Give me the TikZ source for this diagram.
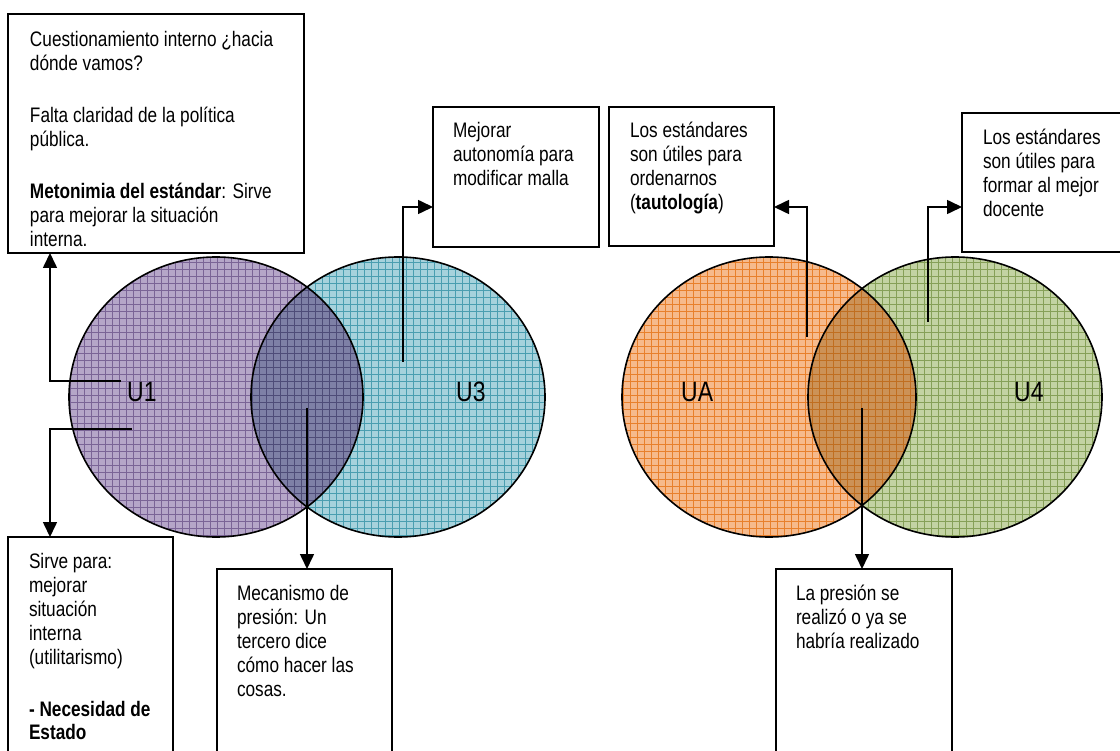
\documentclass[tikz,border=0pt]{standalone}
\usepackage{fontspec}
\setmainfont{Liberation Sans}[FakeStretch=0.82]
\usetikzlibrary{arrows.meta}

% fills of the four sets and their two overlaps
\definecolor{purplebase}{HTML}{B5A6C8}
\definecolor{purplegrid}{HTML}{7A6496}
\definecolor{cyanbase}{HTML}{A6D2DC}
\definecolor{cyangrid}{HTML}{4A9EB0}
\definecolor{lensbase}{HTML}{7E80A6}
\definecolor{lensgrid}{HTML}{4E4C78}
\definecolor{orangebase}{HTML}{F6BA8C}
\definecolor{orangegrid}{HTML}{E8802C}
\definecolor{greenbase}{HTML}{C3D3A3}
\definecolor{greengrid}{HTML}{86A058}
\definecolor{brownbase}{HTML}{CC9257}
\definecolor{browngrid}{HTML}{C06E20}

% text of a note: fixed line breaks, first baseline on the node's base
\newcommand\notetext[1]{\vtop{\hsize=320pt\parindent=0pt\parskip=0pt
  \rightskip=0pt plus 1fil\fontsize{21pt}{24pt}\selectfont\noindent #1\par}}

% one shaded set: clipped fill plus square grid
\newcommand\gridfill[2]{%
  \fill[#1] (0,240) rectangle (1120,560);
  \foreach \gx in {0,7,...,1120} \draw[#2, line width=0.7] (\gx,240) -- (\gx,560);
  \foreach \gy in {241,248,...,560} \draw[#2, line width=0.7] (0,\gy) -- (1120,\gy);
}

\tikzset{
  note/.style={draw, line width=1.8, fill=white, inner sep=0, outer sep=0, anchor=north west},
  notetxt/.style={anchor=base west, inner sep=0, outer sep=0},
  setlabel/.style={anchor=base west, inner sep=0, font=\fontsize{28pt}{30pt}\selectfont},
  conn/.style={line width=1.6, -{Triangle[length=15pt,width=14pt]}},
  rim/.style={line width=1.6},
  setsize/.style={x radius=147, y radius=140}
}

\begin{document}
\begin{tikzpicture}[x=1pt, y=-1pt]
\useasboundingbox (0,0) rectangle (1120,751);

% centres of the four sets
\coordinate (c1) at (216,397);
\coordinate (c3) at (398,397);
\coordinate (ca) at (769,397);
\coordinate (c4) at (955,397);

% left pair
\begin{scope}\clip (c1) ellipse [setsize]; \gridfill{purplebase}{purplegrid}\end{scope}
\begin{scope}\clip (c3) ellipse [setsize]; \gridfill{cyanbase}{cyangrid}\end{scope}
\begin{scope}\clip (c1) ellipse [setsize]; \clip (c3) ellipse [setsize]; \gridfill{lensbase}{lensgrid}\end{scope}
\draw[rim] (c1) ellipse [setsize];
\draw[rim] (c3) ellipse [setsize];

% right pair
\begin{scope}\clip (ca) ellipse [setsize]; \gridfill{orangebase}{orangegrid}\end{scope}
\begin{scope}\clip (c4) ellipse [setsize]; \gridfill{greenbase}{greengrid}\end{scope}
\begin{scope}\clip (ca) ellipse [setsize]; \clip (c4) ellipse [setsize]; \gridfill{brownbase}{browngrid}\end{scope}
\draw[rim] (ca) ellipse [setsize];
\draw[rim] (c4) ellipse [setsize];

% set labels
\node[setlabel] (l1) at (127,402) {U1};
\node[setlabel] (l3) at (456,402) {U3};
\node[setlabel] (la) at (681,402) {UA};
\node[setlabel] (l4) at (1014,402) {U4};

% note frames
\node[note, minimum width=296, minimum height=239] (b1) at (8,14) {};
\node[note, minimum width=166, minimum height=140] (b2) at (433,107) {};
\node[note, minimum width=165, minimum height=139] (b3) at (609,107) {};
\node[note, minimum width=165, minimum height=139] (b4) at (962,113) {};
\node[note, minimum width=165, minimum height=240] (b5) at (8,537) {};
\node[note, minimum width=175, minimum height=200] (b6) at (217,569) {};
\node[note, minimum width=176, minimum height=200] (b7) at (776,569) {};

% note texts
\node[notetxt] (t1) at (30,47) {\notetext{Cuestionamiento interno ¿hacia\\
  dónde vamos?\\[28pt]
  Falta claridad de la política\\
  pública.\\[28pt]
  \textbf{Metonimia del estándar}: Sirve\\
  para mejorar la situación\\
  interna.}};
\node[notetxt] (t2) at (453,138) {\notetext{Mejorar\\ autonomía para\\ modificar malla}};
\node[notetxt] (t3) at (630,138) {\notetext{Los estándares\\ son útiles para\\ ordenarnos\\ (\textbf{tautología})}};
\node[notetxt] (t4) at (983,145) {\notetext{Los estándares\\ son útiles para\\ formar al mejor\\ docente}};
\node[notetxt] (t5) at (29,568) {\notetext{Sirve para:\\ mejorar\\ situación\\ interna\\ (utilitarismo)\\[28pt]
  \textbf{- Necesidad de}\\ \textbf{Estado}}};
\node[notetxt] (t6) at (237,600) {\notetext{Mecanismo de\\ presión: Un\\ tercero dice\\ cómo hacer las\\ cosas.}};
\node[notetxt] (t7) at (796,600) {\notetext{La presión se\\ realizó o ya se\\ habría realizado}};

% free ends of the connectors, inside the sets
\coordinate (p1) at (121,381);
\coordinate (p2) at (132,429);
\coordinate (p3) at (307,408);
\coordinate (p4) at (403,362);
\coordinate (p5) at (807,337);
\coordinate (p6) at (928,322);
\coordinate (p7) at (862,408);

% connectors
\draw[conn] (p1) -| ([xshift=42]b1.south west);
\draw[conn] (p2) -| ([xshift=42]b5.north west);
\draw[conn] (p3) -- (p3 |- b6.north);
\draw[conn] (p4) |- ([yshift=-30]b2.west);
\draw[conn] (p5) |- ([yshift=-30.5]b3.east);
\draw[conn] (p6) |- ([yshift=-24.5]b4.west);
\draw[conn] (p7) -- (p7 |- b7.north);
\end{tikzpicture}
\end{document}
